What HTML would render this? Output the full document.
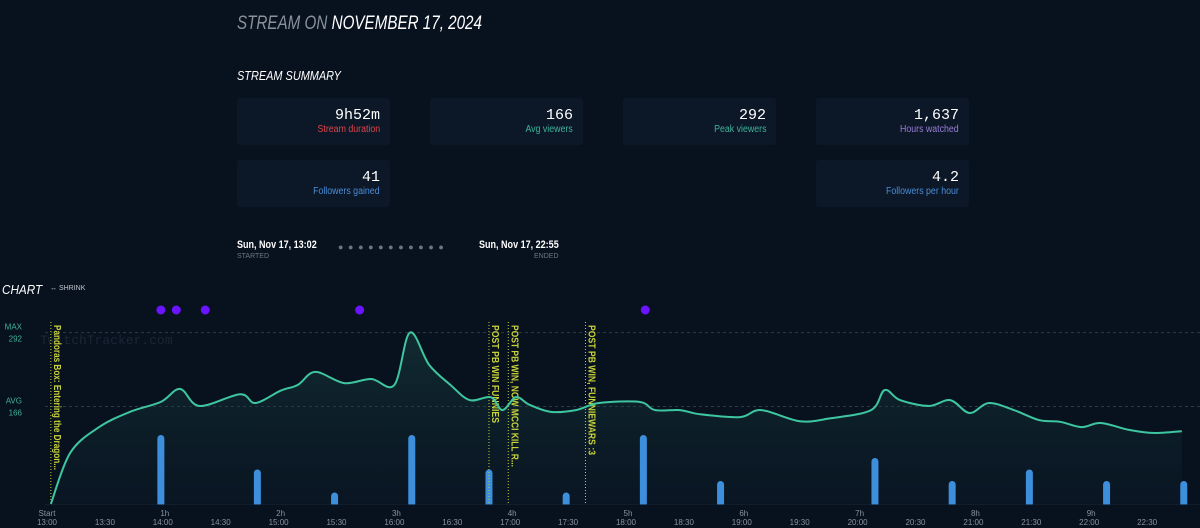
<!DOCTYPE html>
<html><head><meta charset="utf-8"><style>
body{margin:0;width:1200px;height:528px;background:#08111e;overflow:hidden;font-family:"Liberation Sans",sans-serif;position:relative}
.abs{position:absolute}
.sx{transform:scaleX(0.82);transform-origin:left top;white-space:nowrap}
.card{position:absolute;width:153px;height:47px;background:#0c1727;border-radius:3px}
.card .num{position:absolute;right:10px;top:9px;font-family:"Liberation Mono",monospace;font-size:15px;color:#fff}
.card .lbl{position:absolute;right:10px;top:26px;font-size:10px;transform:scaleX(0.88);transform-origin:right top;white-space:nowrap}
</style></head><body>
<div class="abs sx" style="left:237px;top:13px;font-size:19px;font-style:italic;color:#fff;transform:scaleX(0.8)"><span style="color:#8a929c">STREAM ON</span> NOVEMBER 17, 2024</div>
<div class="abs sx" style="left:237px;top:68px;font-size:13px;font-style:italic;color:#fff;transform:scaleX(0.84)">STREAM SUMMARY</div>
<div class="card" style="left:237px;top:98px"><div class="num">9h52m</div><div class="lbl" style="color:#e0464c">Stream duration</div></div>
<div class="card" style="left:430px;top:98px"><div class="num">166</div><div class="lbl" style="color:#3fb39a">Avg viewers</div></div>
<div class="card" style="left:623px;top:98px"><div class="num">292</div><div class="lbl" style="color:#3fb39a">Peak viewers</div></div>
<div class="card" style="left:816px;top:98px"><div class="num">1,637</div><div class="lbl" style="color:#9a7fd6">Hours watched</div></div>
<div class="card" style="left:237px;top:160px"><div class="num">41</div><div class="lbl" style="color:#4a8ed8">Followers gained</div></div>
<div class="card" style="left:816px;top:160px"><div class="num">4.2</div><div class="lbl" style="color:#4a8ed8">Followers per hour</div></div>
<div class="abs sx" style="left:237px;top:239px;font-size:11px;font-weight:bold;color:#fff">Sun, Nov 17, 13:02</div>
<div class="abs" style="left:237px;top:253px;font-size:7px;color:#6d7580">STARTED</div>
<div class="abs" style="left:338px;top:242px;font-size:9px;color:#6d7580;letter-spacing:4.6px">●●●●●●●●●●●</div>
<div class="abs sx" style="left:479px;top:239px;font-size:11px;font-weight:bold;color:#fff">Sun, Nov 17, 22:55</div>
<div class="abs" style="left:534px;top:253px;font-size:7px;color:#6d7580">ENDED</div>
<div class="abs sx" style="left:2px;top:282px;font-size:13px;font-style:italic;color:#fff;transform:scaleX(0.9)">CHART</div>
<div class="abs" style="left:50px;top:285px;font-size:7px;color:#c0c6cc">↔ SHRINK</div>
<svg id="chart" class="abs" style="left:0;top:0" width="1200" height="528"></svg>
<script>
const viewerTimes=[2,12,27,43,59,69,79,100,108,121,130,139,154,168,180,188,198,209,219,230,236,243,250,261,274,286,307,315,328,338,359,370,390,406,427,434,442,457,468,478,488,501,514,525,536,546,561,574,588];
const viewerValues=[0,87,131,157,174,196,167,187,172,193,203,225,206,213,203,292,237,203,177,182,160,182,169,157,160,172,174,160,160,153,148,160,141,146,160,194,177,167,177,155,172,160,143,140,131,138,126,121,124];
const followerTimes=[59,109,149,189,229,269,309,349,429,469,509,549,589];
const followerValues=[6,3,1,6,3,1,6,2,4,2,3,2,2];
const raidTimes=[59,67,82,162,310];
const markerTimes=[2,229,239,279];
const markerTitles=["Pandoras Box: Entering the Dragon...","POST PB WIN FUNNIES","POST PB WIN, NOW MCCI KILL R...","POST PB WIN, FUNNIEWARS :3"];
const markerLens=[145,98,142,130];
const hourLabels=["Start","1h","2h","3h","4h","5h","6h","7h","8h","9h"];
const clockLabels=["13:00","13:30","14:00","14:30","15:00","15:30","16:00","16:30","17:00","17:30","18:00","18:30","19:00","19:30","20:00","20:30","21:00","21:30","22:00","22:30"];
const maxV=292, avgV=166;
const NS="http://www.w3.org/2000/svg";
const svg=document.getElementById('chart');
const X=t=>47+t*1.93;
const Y=v=>504-v*0.587;
const BY=f=>504-f*11.5;
function mk(tag,attrs,parent){const e=document.createElementNS(NS,tag);for(const k in attrs)e.setAttribute(k,attrs[k]);(parent||svg).appendChild(e);return e;}
const defs=mk('defs',{});
const g=mk('linearGradient',{id:'fill',x1:0,y1:0,x2:0,y2:1},defs);
mk('stop',{offset:0,'stop-color':'#1d4a48','stop-opacity':0.45},g);
mk('stop',{offset:1,'stop-color':'#0d2430','stop-opacity':0.25},g);
let wm=mk('text',{x:40,y:344,'font-family':'Liberation Mono, monospace','font-size':13,fill:'#1c2634'});wm.textContent='TwitchTracker.com';


let bl=mk('line',{x1:45,x2:1200,y1:504.5,y2:504.5,stroke:'#1c2636'});


[[maxV,'MAX','max'],[avgV,'AVG','avg']].forEach(([v,l,n])=>{
 let ln=mk('line',{x1:45,x2:1200,y1:Y(v),y2:Y(v),stroke:'#2c3a48','stroke-dasharray':'3,3'});
 
 
 let t1=mk('text',{x:22,y:Y(v)-3,'font-size':8,fill:'#3fb39a','text-anchor':'end'});t1.textContent=l;
 
 
 let t2=mk('text',{x:22,y:Y(v)+9,'font-size':8,fill:'#3fb39a','text-anchor':'end'});t2.textContent=v;
 
 
});
const pts=viewerTimes.map((t,i)=>[X(t),Y(viewerValues[i])]);
let d='M'+pts[0][0]+','+pts[0][1];
for(let i=0;i<pts.length-1;i++){const p0=pts[i-1]||pts[i],p1=pts[i],p2=pts[i+1],p3=pts[i+2]||p2;
 const c1=[p1[0]+(p2[0]-p0[0])/6,p1[1]+(p2[1]-p0[1])/6],c2=[p2[0]-(p3[0]-p1[0])/6,p2[1]-(p3[1]-p1[1])/6];
 d+=` C${c1[0]},${c1[1]} ${c2[0]},${c2[1]} ${p2[0]},${p2[1]}`;}
let area=mk('path',{d:d+` L${pts[pts.length-1][0]},504 L${pts[0][0]},504 Z`,fill:'url(#fill)'});


followerTimes.forEach((t,i)=>{const x=X(t),y=BY(followerValues[i]);
 let b=mk('rect',{x:x-3.5,y:y,width:7,height:504-y+3,rx:3.5,fill:'#3d8fdc'});
 
 });
mk('rect',{x:0,y:504.5,width:1200,height:6,fill:'#08111e'});
markerTimes.forEach((t,i)=>{const x=X(t);
 let l=mk('line',{x1:x,x2:x,y1:322,y2:504,stroke:'#c7cf3a','stroke-dasharray':'1,2','stroke-width':1});
 
 
 let tx=mk('text',{x:x+3,y:325,'font-size':10,'font-weight':'bold',fill:'#c9d43a',textLength:markerLens[i],lengthAdjust:'spacingAndGlyphs',transform:`rotate(90 ${x+3} 325)`});
 tx.textContent=markerTitles[i];
 
 });
let ln=mk('path',{d:d,fill:'none',stroke:'#3ec6a0','stroke-width':2});


raidTimes.forEach(t=>{let c=mk('circle',{cx:X(t),cy:310,r:4.5,fill:'#6a14ff'});
 
 });
hourLabels.forEach((l,i)=>{let t=mk('text',{x:X(i*60)+(i?2:0),y:516,'font-size':8,fill:'#8a929c','text-anchor':'middle'});t.textContent=l;
 
 });
clockLabels.forEach((l,i)=>{let t=mk('text',{x:X(i*30),y:525,'font-size':8,fill:'#8a929c','text-anchor':'middle'});t.textContent=l;
 
 });
</script>
</body></html>
